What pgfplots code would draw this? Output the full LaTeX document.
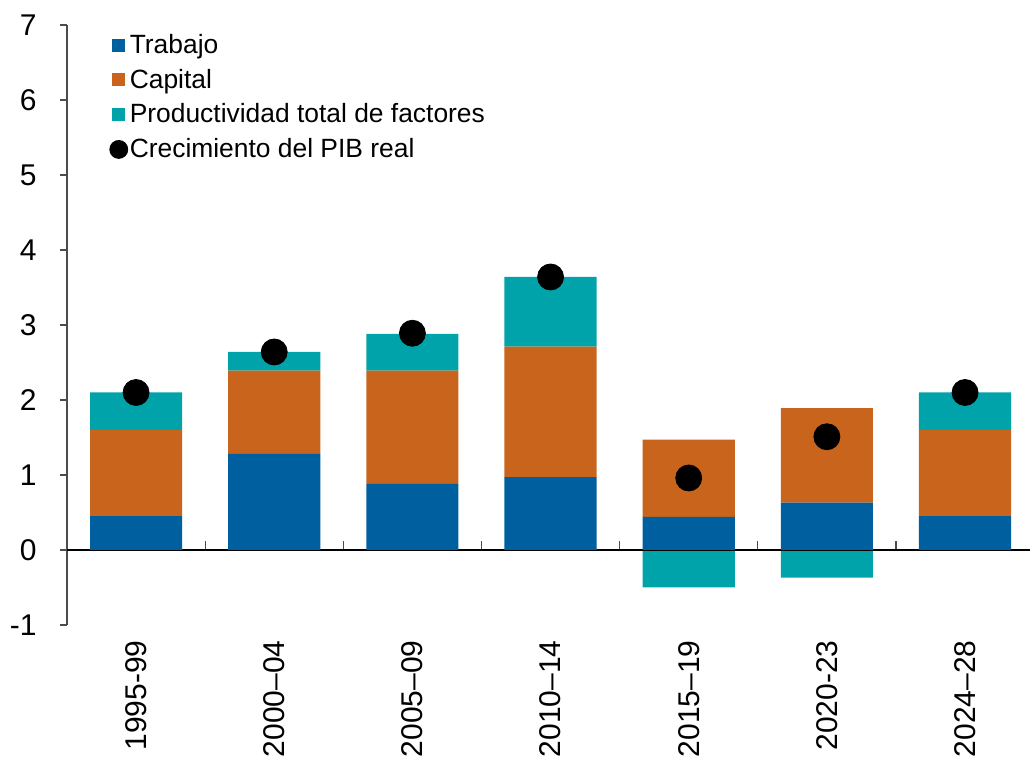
\documentclass[border=0pt]{standalone}
\usepackage{fontspec}
\setmainfont{Liberation Sans}
\usepackage{pgfplots}
\pgfplotsset{compat=1.18}
\definecolor{trab}{HTML}{005F9E}
\definecolor{capi}{HTML}{C8641B}
\definecolor{tfp}{HTML}{00A3AA}
\pgfplotsset{common/.style={
 scale only axis, width=481.5pt, height=300pt,
 at={(0,0)}, anchor=south west,
 xmin=-0.5, xmax=6.47, ymin=-1, ymax=7,
 bar width=0.667}}
\begin{document}
\begin{tikzpicture}
\path[use as bounding box] (-33.5pt,-72pt) rectangle (481.5pt,312.5pt);
% overlay axis: negative part of TFP
\begin{axis}[common, hide axis, ybar, bar shift=0pt]
\addplot[fill=tfp, draw=none] coordinates {(4,-0.50) (5,-0.37)};
\end{axis}
\begin{axis}[
 common,
 ybar stacked,
 axis y line*=left, axis x line*=bottom,
 x axis line style={draw=none},
 y axis line style={draw=black!70, line width=0.6pt},
 ytick={-1,0,...,7}, tick align=outside, major tick length=3.5pt,
 ytick style={draw=black!70, line width=0.6pt},
 xtick={0,...,6},
 xticklabels={1995-99,2000–04,2005–09,2010–14,2015–19,2020-23,2024–28},
 xtick style={draw=none},
 tick label style={font=\fontsize{15}{18}\selectfont},
 /pgf/number format/assume math mode=true,
 yticklabel style={anchor=east, inner sep=0pt, xshift=-11.5pt},
 xticklabel style={rotate=90, anchor=east, inner sep=0pt, xshift=-4pt},
 legend style={draw=none, fill=none, at={(axis description cs:0.0436,0.992)}, anchor=north west,
   inner sep=0pt, row sep=2.3pt, font=\fontsize{13.2}{16}\selectfont, legend cell align=left,
   nodes={inner xsep=0.8pt}},
 legend image code/.code={\fill[#1] (0pt,-3.25pt) rectangle (6.5pt,3.25pt);},
]
\addplot[fill=trab, draw=none] coordinates {(0,0.45) (1,1.28) (2,0.88) (3,0.97) (4,0.44) (5,0.63) (6,0.45)};
\addlegendentry{Trabajo}
\addplot[fill=capi, draw=none] coordinates {(0,1.15) (1,1.11) (2,1.51) (3,1.74) (4,1.03) (5,1.26) (6,1.15)};
\addlegendentry{Capital}
\addplot[fill=tfp, draw=none] coordinates {(0,0.50) (1,0.25) (2,0.49) (3,0.93) (4,0) (5,0) (6,0.50)};
\addlegendentry{Productividad total de factores}
\addplot[stack plots=false, only marks, mark=*, mark size=6.5pt, black,
  legend image code/.code={\fill[black] (3.25pt,0pt) circle (4.5pt);}]
  coordinates {(0,2.10) (1,2.64) (2,2.89) (3,3.64) (4,0.96) (5,1.51) (6,2.10)};
\addlegendentry{Crecimiento del PIB real}
\draw[black, line width=0.8pt] (axis cs:-0.5,0) -- (axis cs:6.47,0);
\pgfplotsinvokeforeach{0.5,1.5,2.5,3.5,4.5,5.5}{\draw[black!70, line width=0.6pt] (axis cs:#1,0) -- ([yshift=4.5pt]axis cs:#1,0);}
\end{axis}
\end{tikzpicture}
\end{document}
